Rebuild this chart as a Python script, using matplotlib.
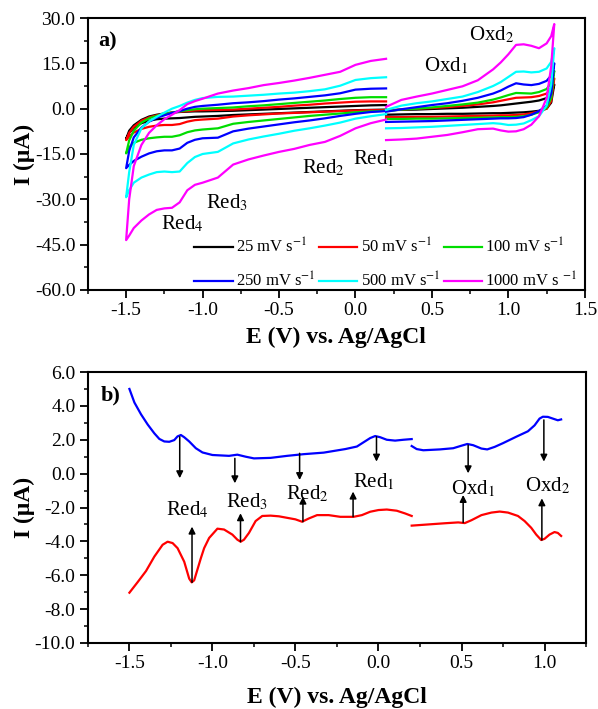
import numpy as np
import matplotlib
matplotlib.use("Agg")
import matplotlib.pyplot as plt
from matplotlib.ticker import MultipleLocator, FormatStrFormatter

plt.rcParams['font.family'] = ['Liberation Serif', 'DejaVu Serif']
plt.rcParams['mathtext.fontset'] = 'stix'
plt.rcParams['axes.unicode_minus'] = False

# ---------------- panel a: CV at different scan rates ----------------
rates = ["25", "50", "100", "250", "500", "1000"]
colors = ["#000000", "#ff0000", "#00dd00", "#0000ff", "#00ffff", "#ff00ff"]

# cathodic window (-1.5 .. 0.2 V)
E_left = [-1.5, -1.48, -1.45, -1.4, -1.35, -1.3, -1.25, -1.2, -1.15, -1.1, -1.05, -1.0,
          -0.9, -0.8, -0.7, -0.6, -0.5, -0.4, -0.3, -0.2, -0.1, 0.0, 0.1, 0.2]

low_25 = [-10.0, -8.0, -6.4, -4.8, -4.0, -3.5, -3.3, -3.2, -3.1, -2.9, -2.7, -2.6,
          -2.4, -2.1, -1.9, -1.7, -1.5, -1.3, -1.1, -0.9, -0.7, -0.5, -0.4, -0.3]
up_25 = [-10.0, -7.3, -5.5, -3.7, -2.6, -2.0, -1.6, -1.3, -1.1, -1.0, -0.9, -0.9,
         -0.8, -0.7, -0.5, -0.3, -0.1, 0.1, 0.3, 0.5, 0.7, 0.9, 1.1, 1.2]
low_50 = [-10.4, -9.2, -7.9, -6.7, -6.0, -5.6, -5.4, -5.4, -5.1, -4.3, -3.8, -3.6,
          -3.3, -2.6, -2.2, -1.9, -1.6, -1.4, -1.2, -1.0, -0.8, -0.6, -0.5, -0.5]
up_50 = [-10.4, -8.0, -6.0, -4.0, -2.9, -2.2, -1.7, -1.3, -1.0, -0.8, -0.6, -0.5,
         -0.4, -0.3, 0.0, 0.3, 0.6, 1.0, 1.3, 1.7, 2.0, 2.3, 2.4, 2.4]
low_100 = [-14.8, -12.8, -11.3, -10.3, -9.8, -9.5, -9.3, -9.3, -8.8, -7.8, -7.2, -6.9,
           -6.5, -5.0, -4.4, -3.9, -3.4, -2.9, -2.4, -2.0, -1.6, -1.2, -0.9, -0.7]
up_100 = [-14.8, -10.5, -7.3, -4.6, -3.2, -2.4, -1.8, -1.3, -0.9, -0.5, -0.2, 0.0,
          0.2, 0.4, 0.8, 1.1, 1.5, 1.9, 2.3, 2.7, 3.2, 3.6, 3.8, 3.8]
low_250 = [-19.7, -18.6, -17.3, -15.9, -14.8, -14.1, -13.8, -13.8, -13.2, -11.3, -10.3, -9.8,
           -9.6, -7.5, -6.6, -5.9, -5.2, -4.5, -3.9, -3.2, -2.4, -1.7, -1.1, -0.8]
up_250 = [-19.7, -14.0, -9.5, -6.3, -4.3, -3.0, -2.2, -1.4, -0.8, 0.0, 0.6, 0.9,
          1.3, 1.8, 2.1, 2.5, 3.0, 3.4, 3.9, 4.4, 5.1, 6.3, 6.6, 6.7]
low_500 = [-29.3, -27.0, -24.5, -22.8, -21.8, -21.0, -20.8, -21.0, -20.8, -18.0, -16.0, -15.0,
           -14.3, -11.5, -10.2, -9.2, -8.3, -7.3, -6.5, -5.6, -4.6, -3.3, -2.5, -1.8]
up_500 = [-29.3, -21.0, -12.0, -6.5, -4.2, -2.7, -1.3, 0.0, 0.9, 2.0, 2.9, 3.5,
          3.9, 4.0, 4.3, 4.6, 5.0, 5.3, 5.8, 6.4, 7.6, 9.5, 10.1, 10.4]
low_1000 = [-43.5, -42.0, -39.5, -37.0, -35.0, -33.5, -33.0, -32.8, -31.0, -27.0, -25.2, -24.5,
            -22.8, -18.5, -16.8, -15.5, -14.3, -13.3, -12.0, -11.0, -9.0, -6.5, -4.8, -3.6]
up_1000 = [-43.5, -30.0, -19.0, -12.0, -8.0, -5.5, -3.5, -2.0, -0.5, 1.5, 2.5, 3.3,
           5.0, 6.0, 6.8, 7.8, 8.5, 9.3, 10.2, 11.2, 12.2, 14.5, 15.8, 16.5]

# anodic window (0.2 .. 1.3 V)
E_right = [0.2, 0.3, 0.4, 0.5, 0.6, 0.7, 0.8, 0.9, 0.95, 1.0, 1.05, 1.1, 1.15, 1.2, 1.25, 1.28, 1.3]

fwd_25 = [-0.5, -0.4, -0.3, -0.1, 0.1, 0.3, 0.6, 0.9, 1.1, 1.4, 1.7, 2.0, 2.3, 2.7, 3.5, 5.0, 8.0]
rev_25 = [-2.0, -1.9, -1.8, -1.8, -1.7, -1.7, -1.6, -1.5, -1.5, -1.4, -1.3, -1.2, -1.0, -0.7, 0.0, 2.0, 8.0]
fwd_50 = [-0.6, -0.3, 0.0, 0.2, 0.5, 0.9, 1.4, 2.1, 2.6, 3.1, 3.6, 3.7, 3.8, 4.2, 5.0, 6.8, 10.0]
rev_50 = [-2.8, -2.8, -2.7, -2.7, -2.6, -2.5, -2.4, -2.3, -2.2, -2.2, -2.1, -1.9, -1.5, -0.9, 0.0, 2.5, 10.0]
fwd_100 = [-0.8, -0.3, 0.0, 0.4, 0.9, 1.4, 2.0, 3.0, 3.7, 4.5, 5.2, 5.1, 5.0, 5.5, 6.5, 8.5, 12.5]
rev_100 = [-3.4, -3.4, -3.3, -3.3, -3.2, -3.1, -3.0, -2.9, -2.8, -2.8, -2.7, -2.5, -2.0, -1.2, 0.3, 3.5, 12.5]
fwd_250 = [-1.0, -0.2, 0.5, 1.2, 1.8, 2.6, 3.6, 5.0, 6.0, 7.3, 8.4, 8.0, 7.8, 8.2, 9.2, 11.0, 15.0]
rev_250 = [-4.4, -4.3, -4.2, -4.1, -3.9, -3.7, -3.5, -3.3, -3.2, -3.2, -3.1, -2.8, -2.0, -0.8, 1.0, 5.0, 15.0]
fwd_500 = [-0.4, 1.0, 1.8, 2.4, 3.2, 4.0, 5.5, 7.5, 8.8, 10.5, 12.2, 12.3, 12.0, 12.2, 13.3, 15.5, 20.0]
rev_500 = [-6.5, -6.4, -6.2, -6.0, -5.7, -5.4, -5.1, -4.8, -5.0, -5.4, -5.3, -4.9, -3.8, -2.5, 1.0, 8.0, 20.0]
fwd_1000 = [0.6, 2.9, 4.0, 5.0, 6.2, 7.4, 9.4, 13.0, 15.3, 18.0, 21.1, 21.3, 20.8, 20.0, 21.6, 24.0, 28.0]
rev_1000 = [-10.4, -10.2, -9.9, -9.3, -8.7, -7.8, -6.8, -6.6, -7.2, -7.6, -7.5, -6.8, -5.3, -2.5, 3.5, 14.0, 28.0]

left_low = [low_25, low_50, low_100, low_250, low_500, low_1000]
left_up = [up_25, up_50, up_100, up_250, up_500, up_1000]
right_fwd = [fwd_25, fwd_50, fwd_100, fwd_250, fwd_500, fwd_1000]
right_rev = [rev_25, rev_50, rev_100, rev_250, rev_500, rev_1000]

# ---------------- panel b ----------------
Eb_left = [-1.5, -1.47, -1.43, -1.39, -1.35, -1.32, -1.29, -1.26, -1.23, -1.21, -1.19, -1.17,
           -1.14, -1.1, -1.06, -1.0, -0.9, -0.85, -0.8, -0.75, -0.65, -0.55, -0.45, -0.33,
           -0.2, -0.13, -0.09, -0.05, -0.02, 0.01, 0.05, 0.1, 0.15, 0.2]
blue_left = [5.0, 4.2, 3.5, 2.9, 2.38, 2.05, 1.9, 1.88, 1.98, 2.2, 2.28, 2.15,
             1.9, 1.5, 1.25, 1.1, 1.05, 1.12, 1.0, 0.9, 0.93, 1.05, 1.15, 1.24,
             1.45, 1.6, 1.85, 2.1, 2.22, 2.15, 2.0, 1.95, 2.0, 2.04]
Eb_right = [0.2, 0.23, 0.27, 0.37, 0.45, 0.5, 0.535, 0.57, 0.62, 0.655, 0.7, 0.75,
            0.83, 0.9, 0.94, 0.97, 0.99, 1.02, 1.05, 1.08, 1.1]
blue_right = [1.63, 1.45, 1.38, 1.43, 1.5, 1.65, 1.75, 1.68, 1.48, 1.43, 1.58, 1.8,
              2.18, 2.5, 2.85, 3.25, 3.36, 3.35, 3.25, 3.15, 3.2]

Er_left = [-1.5, -1.45, -1.4, -1.35, -1.3, -1.27, -1.24, -1.21, -1.17, -1.14, -1.125, -1.11,
           -1.07, -1.05, -1.02, -0.97, -0.93, -0.88, -0.85, -0.83, -0.81, -0.78, -0.74, -0.7,
           -0.65, -0.6, -0.5, -0.46, -0.42, -0.37, -0.3, -0.23, -0.15, -0.1, -0.05, 0.0,
           0.05, 0.11, 0.16, 0.2]
red_left = [-7.03, -6.4, -5.75, -4.9, -4.2, -4.02, -4.1, -4.4, -5.2, -6.2, -6.42, -6.3,
            -5.0, -4.4, -3.8, -3.25, -3.3, -3.6, -3.9, -4.02, -3.9, -3.5, -2.8, -2.5,
            -2.48, -2.52, -2.7, -2.84, -2.65, -2.45, -2.45, -2.55, -2.55, -2.45, -2.25, -2.15,
            -2.12, -2.19, -2.35, -2.5]
Er_right = [0.2, 0.3, 0.4, 0.48, 0.52, 0.56, 0.62, 0.68, 0.73, 0.78, 0.84, 0.88,
            0.92, 0.95, 0.98, 1.0, 1.03, 1.06, 1.08, 1.1]
red_right = [-3.07, -3.0, -2.93, -2.88, -2.92, -2.75, -2.45, -2.3, -2.24, -2.3, -2.5, -2.8,
             -3.2, -3.6, -3.92, -3.85, -3.6, -3.45, -3.5, -3.68]

peak_names = ["Red$_4$", "Red$_3$", "Red$_2$", "Red$_1$", "Oxd$_1$", "Oxd$_2$"]
# arrows: down from blue peak, up towards red peak
down_E = [-1.197, -0.865, -0.475, -0.012, 0.54, 0.996]
down_from = [2.18, 0.9, 1.2, 2.18, 1.69, 3.17]
down_to = [-0.27, -0.57, -0.38, 0.71, 0.02, 0.71]
up_E = [-1.123, -0.831, -0.455, -0.153, 0.51, 0.984]
up_from = [-6.42, -4.02, -2.84, -2.54, -2.89, -3.92]
up_to = [-3.13, -2.34, -1.36, -1.06, -1.26, -1.46]
lab_E = [-1.15, -0.79, -0.43, -0.03, 0.57, 1.02]
lab_I = [-2.15, -1.67, -1.2, -0.5, -0.9, -0.73]

fig = plt.figure(figsize=(5.98, 7.09), dpi=100)
ax1 = fig.add_axes([0.147, 0.591, 0.831, 0.3836])
ax2 = fig.add_axes([0.147, 0.0931, 0.833, 0.3822])

handles = []
for i in range(6):
    xs = E_left[::-1] + E_left
    ys = left_low[i][::-1] + left_up[i]
    h, = ax1.plot(xs, ys, color=colors[i], lw=1.6)
    ax1.plot(E_right + E_right[::-1], right_fwd[i] + right_rev[i][::-1], color=colors[i], lw=1.6)
    handles.append(h)

labels = [r + " mV s$^{-1}$" for r in rates[:5]] + ["1000 mV s $^{-1}$"]
order = [0, 3, 1, 4, 2, 5]
ax1.legend([handles[k] for k in order], [labels[k] for k in order], ncol=3,
           loc='lower right', bbox_to_anchor=(1.005, -0.04), frameon=False, fontsize=12,
           handlelength=2.3, handletextpad=0.2, columnspacing=0.2, labelspacing=0.9,
           borderaxespad=0.2)

ax1.text(-1.13, -38, "Red$_4$", fontsize=15, ha='center', va='center')
ax1.text(-0.84, -31.2, "Red$_3$", fontsize=15, ha='center', va='center')
ax1.text(-0.21, -19.6, "Red$_2$", fontsize=15, ha='center', va='center')
ax1.text(0.12, -16.7, "Red$_1$", fontsize=15, ha='center', va='center')
ax1.text(0.59, 14.1, "Oxd$_1$", fontsize=15, ha='center', va='center')
ax1.text(0.89, 24.4, "Oxd$_2$", fontsize=15, ha='center', va='center')
ax1.text(0.04, 0.915, "a)", transform=ax1.transAxes, fontsize=16, fontweight='bold',
         ha='center', va='center')

ax1.set_xlim(-1.75, 1.5)
ax1.set_ylim(-60, 30)
ax1.xaxis.set_major_locator(MultipleLocator(0.5))
ax1.xaxis.set_minor_locator(MultipleLocator(0.25))
ax1.yaxis.set_major_locator(MultipleLocator(15))
ax1.yaxis.set_minor_locator(MultipleLocator(7.5))

ax2.plot(Eb_left, blue_left, color='#0000ff', lw=1.6)
ax2.plot(Eb_right, blue_right, color='#0000ff', lw=1.6)
ax2.plot(Er_left, red_left, color='#ff0000', lw=1.6)
ax2.plot(Er_right, red_right, color='#ff0000', lw=1.6)
for i in range(6):
    ax2.annotate("", xy=(down_E[i], down_to[i]), xytext=(down_E[i], down_from[i]),
                 arrowprops=dict(arrowstyle='-|>', color='black', lw=1.1, mutation_scale=10,
                                 shrinkA=0, shrinkB=0))
    ax2.annotate("", xy=(up_E[i], up_to[i]), xytext=(up_E[i], up_from[i]),
                 arrowprops=dict(arrowstyle='-|>', color='black', lw=1.1, mutation_scale=10,
                                 shrinkA=0, shrinkB=0))
    ax2.text(lab_E[i], lab_I[i], peak_names[i], fontsize=15, ha='center', va='center')
ax2.text(0.046, 0.915, "b)", transform=ax2.transAxes, fontsize=16, fontweight='bold',
         ha='center', va='center')

ax2.set_xlim(-1.75, 1.25)
ax2.set_ylim(-10, 6)
ax2.xaxis.set_major_locator(MultipleLocator(0.5))
ax2.xaxis.set_minor_locator(MultipleLocator(0.25))
ax2.yaxis.set_major_locator(MultipleLocator(2))
ax2.yaxis.set_minor_locator(MultipleLocator(1))

for ax, xl_y in ((ax1, -0.136), (ax2, -0.162)):
    for s in ax.spines.values():
        s.set_linewidth(1.5)
    ax.tick_params(which='major', direction='out', length=6, width=1.3, labelsize=14, pad=3)
    ax.tick_params(which='minor', direction='out', length=3, width=1.1)
    ax.xaxis.set_major_formatter(FormatStrFormatter('%.1f'))
    ax.yaxis.set_major_formatter(FormatStrFormatter('%.1f'))
    ax.set_xlabel("E (V) vs. Ag/AgCl", fontsize=17, fontweight='bold')
    ax.set_ylabel("I (μA)", fontsize=17, fontweight='bold')
    ax.xaxis.set_label_coords(0.5, xl_y)
    ax.yaxis.set_label_coords(-0.107, 0.5)

fig.savefig("out.png", dpi=100)
